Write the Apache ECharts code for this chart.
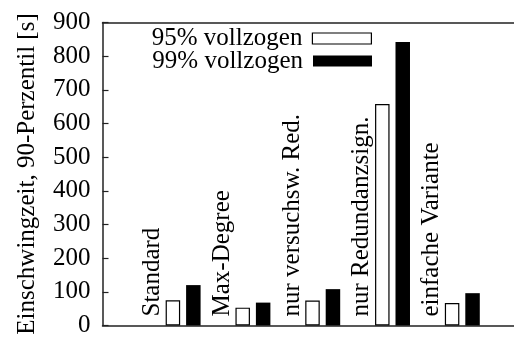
<!DOCTYPE html>
<html>
<head>
<meta charset="utf-8">
<script src="https://cdn.jsdelivr.net/npm/echarts@6/dist/echarts.min.js"></script>
<style>
  html, body { margin: 0; padding: 0; background: #fff; }
  #chart { width: 514px; height: 343px; }
</style>
</head>
<body>
<div id="chart"></div>
<script>
// Settling time (90th percentile) per protocol variant
const categories = ['Standard', 'Max-Degree', 'nur versuchsw. Red.', 'nur Redundanzsign.', 'einfache Variante'];
const seriesNames = ['95% vollzogen', '99% vollzogen'];
const done95 = [75, 53, 74, 658, 67];
const done99 = [120, 68, 108, 842, 96];
const labelSlot = [0, 0, 0, 0, 0];
const yTicks = { min: 0, max: 900, step: 100 };
const yTitle = 'Einschwingzeit, 90-Perzentil [s]';

const FONT = '"Liberation Serif", "Times New Roman", Times, serif';
const LINE = '#222';

const chart = echarts.init(document.getElementById('chart'), null, { renderer: 'canvas' });

const legendBase = {
  orient: 'vertical',
  align: 'right',
  icon: 'rect',
  padding: 0,
  itemWidth: 59,
  itemHeight: 11,
  itemGap: 0,
  selectedMode: false,
  textStyle: { fontFamily: FONT, fontSize: 25, color: '#000', padding: [0, 5, 0, 0] }
};

chart.setOption({
  animation: false,
  grid: [
    { left: 102.5, right: 0, top: 22.5, bottom: 17.5 },
    { left: 138, right: 27, top: 22.5, bottom: 17.5 }
  ],
  legend: [
    Object.assign({}, legendBase, { right: 142, top: 26, data: [{ name: seriesNames[0], itemStyle: { color: '#fff', borderColor: '#000', borderWidth: 1.2 } }] }),
    Object.assign({}, legendBase, { right: 142, top: 48.5, data: [{ name: seriesNames[1] }] })
  ],
  xAxis: [
    { gridIndex: 0, type: 'category', data: [''], position: 'bottom',
      axisLine: { show: true, lineStyle: { color: LINE, width: 1.5 } },
      axisTick: { show: false }, axisLabel: { show: false } },
    { gridIndex: 0, type: 'category', data: [''], position: 'top',
      axisLine: { show: true, lineStyle: { color: LINE, width: 1.5 } },
      axisTick: { show: false }, axisLabel: { show: false } },
    { gridIndex: 1, type: 'category', data: categories,
      axisLine: { show: false }, axisTick: { show: false }, axisLabel: { show: false } }
  ],
  yAxis: [
    { gridIndex: 0, type: 'value', min: yTicks.min, max: yTicks.max, interval: yTicks.step,
      name: yTitle, nameLocation: 'middle', nameRotate: 90, nameGap: 63,
      nameTextStyle: { fontFamily: FONT, fontSize: 25, color: '#000' },
      axisLine: { show: true, lineStyle: { color: LINE, width: 1.5 } },
      axisTick: { show: true, inside: true, length: 6, lineStyle: { color: LINE, width: 1.2 } },
      axisLabel: { fontFamily: FONT, fontSize: 25, color: '#000', margin: 12 },
      splitLine: { show: false } },
    { gridIndex: 1, type: 'value', min: yTicks.min, max: yTicks.max, interval: yTicks.step,
      show: false, splitLine: { show: false } }
  ],
  series: [
    { type: 'bar', name: 'labels', xAxisIndex: 2, yAxisIndex: 1, data: labelSlot,
      barWidth: 14.5, barGap: '41%',
      itemStyle: { color: 'rgba(0,0,0,0)' },
      label: { show: true, position: 'insideBottom', distance: 9, rotate: 90,
        align: 'left', verticalAlign: 'middle',
        formatter: p => p.name,
        fontFamily: FONT, fontSize: 25, color: '#000' } },
    { type: 'bar', name: seriesNames[0], xAxisIndex: 2, yAxisIndex: 1, data: done95,
      barWidth: 14.5, barGap: '41%',
      itemStyle: { color: '#fff', borderColor: '#000', borderWidth: 1.2 } },
    { type: 'bar', name: seriesNames[1], xAxisIndex: 2, yAxisIndex: 1, data: done99,
      barWidth: 14.5, barGap: '41%',
      itemStyle: { color: '#000' } }
  ]
});
</script>
</body>
</html>
